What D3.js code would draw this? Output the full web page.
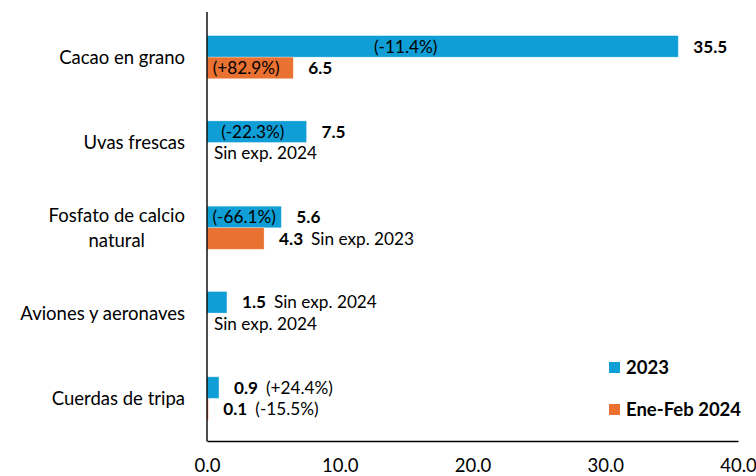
<!DOCTYPE html>
<html><head><meta charset="utf-8">
<script src="https://cdn.jsdelivr.net/npm/d3@7"></script>
<style>body{margin:0;background:#fff} svg{display:block}</style>
</head><body>
<svg id="c" width="756" height="476"></svg>
<script>
const categories = ["Cacao en grano", "Uvas frescas", "Fosfato de calcio\nnatural", "Aviones y aeronaves", "Cuerdas de tripa"];
const seriesNames = ["2023", "Ene-Feb 2024"];
const values2023 = [35.5, 7.5, 5.6, 1.5, 0.9];
const valuesEneFeb2024 = [6.5, null, 4.3, null, 0.1];
const notes2023 = ["(-11.4%)", "(-22.3%)", "(-66.1%)", "Sin exp. 2024", "(+24.4%)"];
const notesEneFeb2024 = ["(+82.9%)", "Sin exp. 2024", "Sin exp. 2023", "Sin exp. 2024", "(-15.5%)"];
const xTicks = [0, 10, 20, 30, 40];

// layout (placement of notes) kept apart from data
const notePlace = [["in", "in", "in", "after", "after"], ["in", "start", "after", "start", "after"]];
const noteShift = [[-37, -4, 0, 0, 0], [-4, 0, 0, 0, 0]];
const colors = ["#0F9ED5", "#E97132"];
const FONT = "Lato, 'Noto Sans', sans-serif";
const fsCat = 18.5, fsLab = 17.2, fsTick = 18.5, fsLeg = 18.5;

const svg = d3.select("#c").style("font-family", FONT);
const x = d3.scaleLinear().domain([0, 40]).range([207, 738]);
const y = d3.scaleBand().domain(categories).range([14.5, 441]).paddingInner(0.495).paddingOuter(0.2475);
const ySub = d3.scaleBand().domain(seriesNames).range([0, y.bandwidth()]);

const series = [values2023, valuesEneFeb2024];
const notes = [notes2023, notesEneFeb2024];

// bars
series.forEach((vals, si) => {
  svg.append("g").selectAll("rect").data(categories.map((c, i) => ({c, v: vals[i], i})).filter(d => d.v != null))
    .join("rect")
    .attr("x", x(0))
    .attr("y", d => y(d.c) + ySub(seriesNames[si]))
    .attr("width", d => x(d.v) - x(0))
    .attr("height", ySub.bandwidth())
    .attr("fill", colors[si])
    .attr("stroke", "#ffffff").attr("stroke-opacity", 0.35).attr("stroke-width", 0.8);
});

// labels
series.forEach((vals, si) => {
  categories.forEach((c, i) => {
    const v = vals[i];
    const cy = y(c) + ySub(seriesNames[si]) + ySub.bandwidth() / 2;
    const place = notePlace[si][i];
    const note = notes[si][i];
    if (v == null) {
      svg.append("text").attr("x", x(0) + 7).attr("y", cy).attr("dy", "0.36em")
        .attr("font-size", fsLab).attr("fill", "#000").text(note);
      return;
    }
    const t = svg.append("text").attr("x", x(v) + 15).attr("y", cy).attr("dy", "0.36em")
      .attr("font-size", fsLab).attr("fill", "#000");
    t.append("tspan").attr("font-weight", "bold").text(d3.format(".1f")(v));
    if (place === "after") {
      t.append("tspan").attr("dx", 8).text(note);
    } else if (place === "in") {
      svg.append("text").attr("x", (x(0) + x(v)) / 2 + noteShift[si][i]).attr("y", cy).attr("dy", "0.36em")
        .attr("text-anchor", "middle").attr("font-size", fsLab).attr("fill", "#000").text(note);
    }
  });
});

// axes
svg.append("line").attr("x1", x(0)).attr("x2", x(0)).attr("y1", 12).attr("y2", 441.5)
  .attr("stroke", "#000").attr("stroke-width", 1.4);
const xAxis = svg.append("g").attr("transform", "translate(0,441)")
  .call(d3.axisBottom(x).tickValues(xTicks).tickSize(0).tickFormat(d3.format(".1f")));
xAxis.select(".domain").attr("stroke", "#000").attr("stroke-width", 1.4);
xAxis.selectAll("text").attr("y", 31).attr("dy", 0).attr("font-size", fsTick).attr("font-family", FONT).attr("fill", "#000");

// category labels: block right-aligned, lines centered in block
categories.forEach(c => {
  const lines = c.split("\n");
  const cy = y(c) + y.bandwidth() / 2;
  const lh = 24.5;
  const g = svg.append("g");
  const texts = lines.map((ln, k) => g.append("text")
    .attr("y", cy + (k - (lines.length - 1) / 2) * lh).attr("dy", "0.36em")
    .attr("font-size", fsCat).attr("fill", "#000").attr("text-anchor", "middle").text(ln));
  const w = d3.max(texts, t => t.node().getComputedTextLength());
  const cx = 185 - w / 2;
  texts.forEach(t => t.attr("x", cx));
});

// legend
const leg = svg.append("g").attr("transform", "translate(609,362)");
seriesNames.forEach((s, i) => {
  const g = leg.append("g").attr("transform", `translate(0,${i * 42})`);
  g.append("rect").attr("width", 11).attr("height", 11).attr("fill", colors[i]);
  g.append("text").attr("x", 17).attr("y", 5.5).attr("dy", "0.36em").attr("font-size", fsLeg)
    .attr("font-weight", "bold").attr("fill", "#000").text(s);
});
</script>
</body></html>
